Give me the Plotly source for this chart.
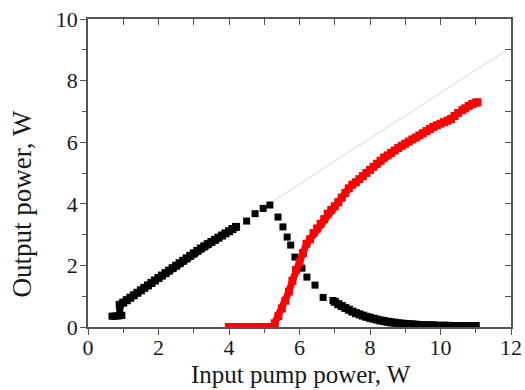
import plotly.graph_objects as go

# ---- Black series ----
# low-power cluster
black_low_x = [0.68, 0.74, 0.80, 0.86, 0.92, 0.96, 0.9]
black_low_y = [0.35, 0.35, 0.36, 0.36, 0.37, 0.38, 0.55]
# dense linear rise
black_rise_x = [0.9, 1.0, 1.1, 1.2, 1.3, 1.4, 1.5, 1.6, 1.7, 1.8, 1.9, 2.0, 2.1,
                2.2, 2.3, 2.4, 2.5, 2.6, 2.7, 2.8, 2.9, 3.0, 3.1, 3.2, 3.3, 3.4,
                3.5, 3.6, 3.7, 3.8, 3.9, 4.0, 4.1, 4.2]
black_rise_y = [0.72, 0.79, 0.87, 0.95, 1.03, 1.11, 1.19, 1.27, 1.35, 1.43, 1.51,
                1.59, 1.67, 1.75, 1.83, 1.91, 1.99, 2.07, 2.15, 2.23, 2.31, 2.39,
                2.47, 2.55, 2.62, 2.69, 2.76, 2.83, 2.90, 2.97, 3.04, 3.11, 3.18,
                3.25]
# sparse points around the peak and the drop
black_peak_x = [4.5, 4.74, 4.97, 5.16, 5.39, 5.53, 5.65, 5.75, 5.87, 6.07, 6.21,
                6.44, 6.67, 6.95]
black_peak_y = [3.44, 3.68, 3.85, 3.96, 3.57, 3.25, 2.92, 2.66, 2.27, 1.91, 1.62,
                1.36, 0.96, 0.86]
# dense decaying tail
black_tail_x = [7.0, 7.1, 7.2, 7.3, 7.4, 7.5, 7.6, 7.7, 7.8, 7.9, 8.0, 8.1, 8.2,
                8.3, 8.4, 8.5, 8.6, 8.7, 8.8, 8.9, 9.0, 9.1, 9.2, 9.3, 9.4, 9.5,
                9.6, 9.7, 9.8, 9.9, 10.0, 10.1, 10.2, 10.3, 10.4, 10.5]
black_tail_y = [0.82, 0.74, 0.68, 0.62, 0.56, 0.50, 0.45, 0.41, 0.37, 0.33, 0.30,
                0.27, 0.24, 0.21, 0.19, 0.17, 0.15, 0.14, 0.12, 0.11, 0.10, 0.09,
                0.08, 0.07, 0.06, 0.06, 0.05, 0.05, 0.05, 0.04, 0.04, 0.04, 0.04,
                0.03, 0.03, 0.03]
black_end_x = [10.72, 10.8, 10.88, 10.96, 11.0]
black_end_y = [0.03, 0.03, 0.03, 0.03, 0.03]

# ---- Red series ----
red_flat_x = [4.0, 4.1, 4.2, 4.3, 4.4, 4.5, 4.6, 4.7, 4.8, 4.9, 5.0, 5.1, 5.2,
              5.25]
red_flat_y = [0, 0, 0, 0, 0, 0, 0, 0, 0, 0, 0, 0, 0, 0]
red_rise_x = [5.25, 5.3, 5.4, 5.5, 5.6, 5.7, 5.8, 5.9, 6.0, 6.1, 6.2, 6.3, 6.4,
              6.5, 6.6, 6.7, 6.8, 6.9, 7.0, 7.1, 7.2, 7.3, 7.4, 7.5, 7.6, 7.7,
              7.8, 7.9, 8.0, 8.1, 8.2, 8.3, 8.4, 8.5, 8.6, 8.7, 8.8, 8.9, 9.0,
              9.1, 9.2, 9.3, 9.4, 9.5, 9.6, 9.7, 9.8, 9.9, 10.0, 10.1, 10.2,
              10.3, 10.4, 10.5]
red_rise_y = [0.0, 0.12, 0.35, 0.60, 0.85, 1.15, 1.50, 1.85, 2.10, 2.40, 2.70,
              2.85, 3.05, 3.20, 3.35, 3.50, 3.68, 3.80, 3.92, 4.05, 4.20, 4.35,
              4.50, 4.62, 4.70, 4.80, 4.90, 5.00, 5.10, 5.20, 5.30, 5.40, 5.50,
              5.57, 5.65, 5.73, 5.81, 5.88, 5.95, 6.02, 6.09, 6.15, 6.22, 6.29,
              6.36, 6.43, 6.50, 6.55, 6.60, 6.65, 6.70, 6.75, 6.85, 6.95]
red_end_x = [10.62, 10.7, 10.8, 10.9, 11.0, 11.05]
red_end_y = [7.04, 7.10, 7.18, 7.24, 7.28, 7.30]

# Extrapolation guide line
guide_x = [5.2, 11.85]
guide_y = [4.05, 8.97]

x_ticks = [0, 2, 4, 6, 8, 10, 12]
y_ticks = [0, 2, 4, 6, 8, 10]

font_family = "Liberation Serif, Times New Roman, serif"
BLACK = "#000000"
RED = "#ff0000"

fig = go.Figure()
fig.add_trace(go.Scatter(x=guide_x, y=guide_y, mode="lines",
                         line=dict(color="#d9d9d9", width=1)))


def add_seg(xs, ys, color, dense):
    fig.add_trace(go.Scatter(
        x=xs, y=ys, mode="lines+markers" if dense else "markers",
        line=dict(color=color, width=7),
        marker=dict(symbol="square", size=8 if dense else 7, color=color)))


add_seg(black_low_x, black_low_y, BLACK, False)
add_seg(black_rise_x, black_rise_y, BLACK, True)
add_seg(black_peak_x, black_peak_y, BLACK, False)
add_seg(black_tail_x, black_tail_y, BLACK, True)
add_seg(black_end_x, black_end_y, BLACK, True)
add_seg(red_flat_x, red_flat_y, RED, True)
add_seg(red_rise_x, red_rise_y, RED, True)
add_seg(red_end_x, red_end_y, RED, True)

axis_common = dict(showline=True, linecolor="#555555", linewidth=1.5,
                   showgrid=False, zeroline=False, ticklen=6, tickwidth=1.2,
                   tickcolor="#555555", automargin=False)

fig.update_layout(
    width=525, height=390,
    margin=dict(l=88, r=14, t=19, b=63),
    paper_bgcolor="white", plot_bgcolor="white",
    showlegend=False,
    font=dict(family=font_family, size=22, color="#1a1a1a"),
    xaxis=dict(range=[0, 12], tickvals=x_ticks, ticks="outside",
               ticklabelstandoff=-6,
               minor=dict(dtick=1, ticks="outside", ticklen=4,
                          tickcolor="#555555"),
               **axis_common),
    yaxis=dict(range=[0, 10], tickvals=y_ticks, ticks="outside",
               ticklabelstandoff=-2,
               minor=dict(dtick=1, ticks="outside", ticklen=4,
                          tickcolor="#555555"),
               **axis_common),
    xaxis2=dict(range=[0, 12], overlaying="x", side="top", dtick=1,
                ticks="inside", showticklabels=False, **axis_common),
    yaxis2=dict(range=[0, 10], overlaying="y", side="right", dtick=1,
                ticks="inside", showticklabels=False, **axis_common),
    annotations=[
        dict(text="Input pump power, W", xref="paper", yref="paper",
             x=0.504, y=-0.2045, xanchor="center", yanchor="bottom",
             showarrow=False, font=dict(size=25)),
        dict(text="Output power, W", xref="paper", yref="paper",
             x=-0.157, y=0.40, xanchor="center", yanchor="middle",
             textangle=-90, showarrow=False, font=dict(size=27)),
    ],
)
fig.add_trace(go.Scatter(x=[None], y=[None], xaxis="x2", yaxis="y2"))

fig.write_html("out.html")
